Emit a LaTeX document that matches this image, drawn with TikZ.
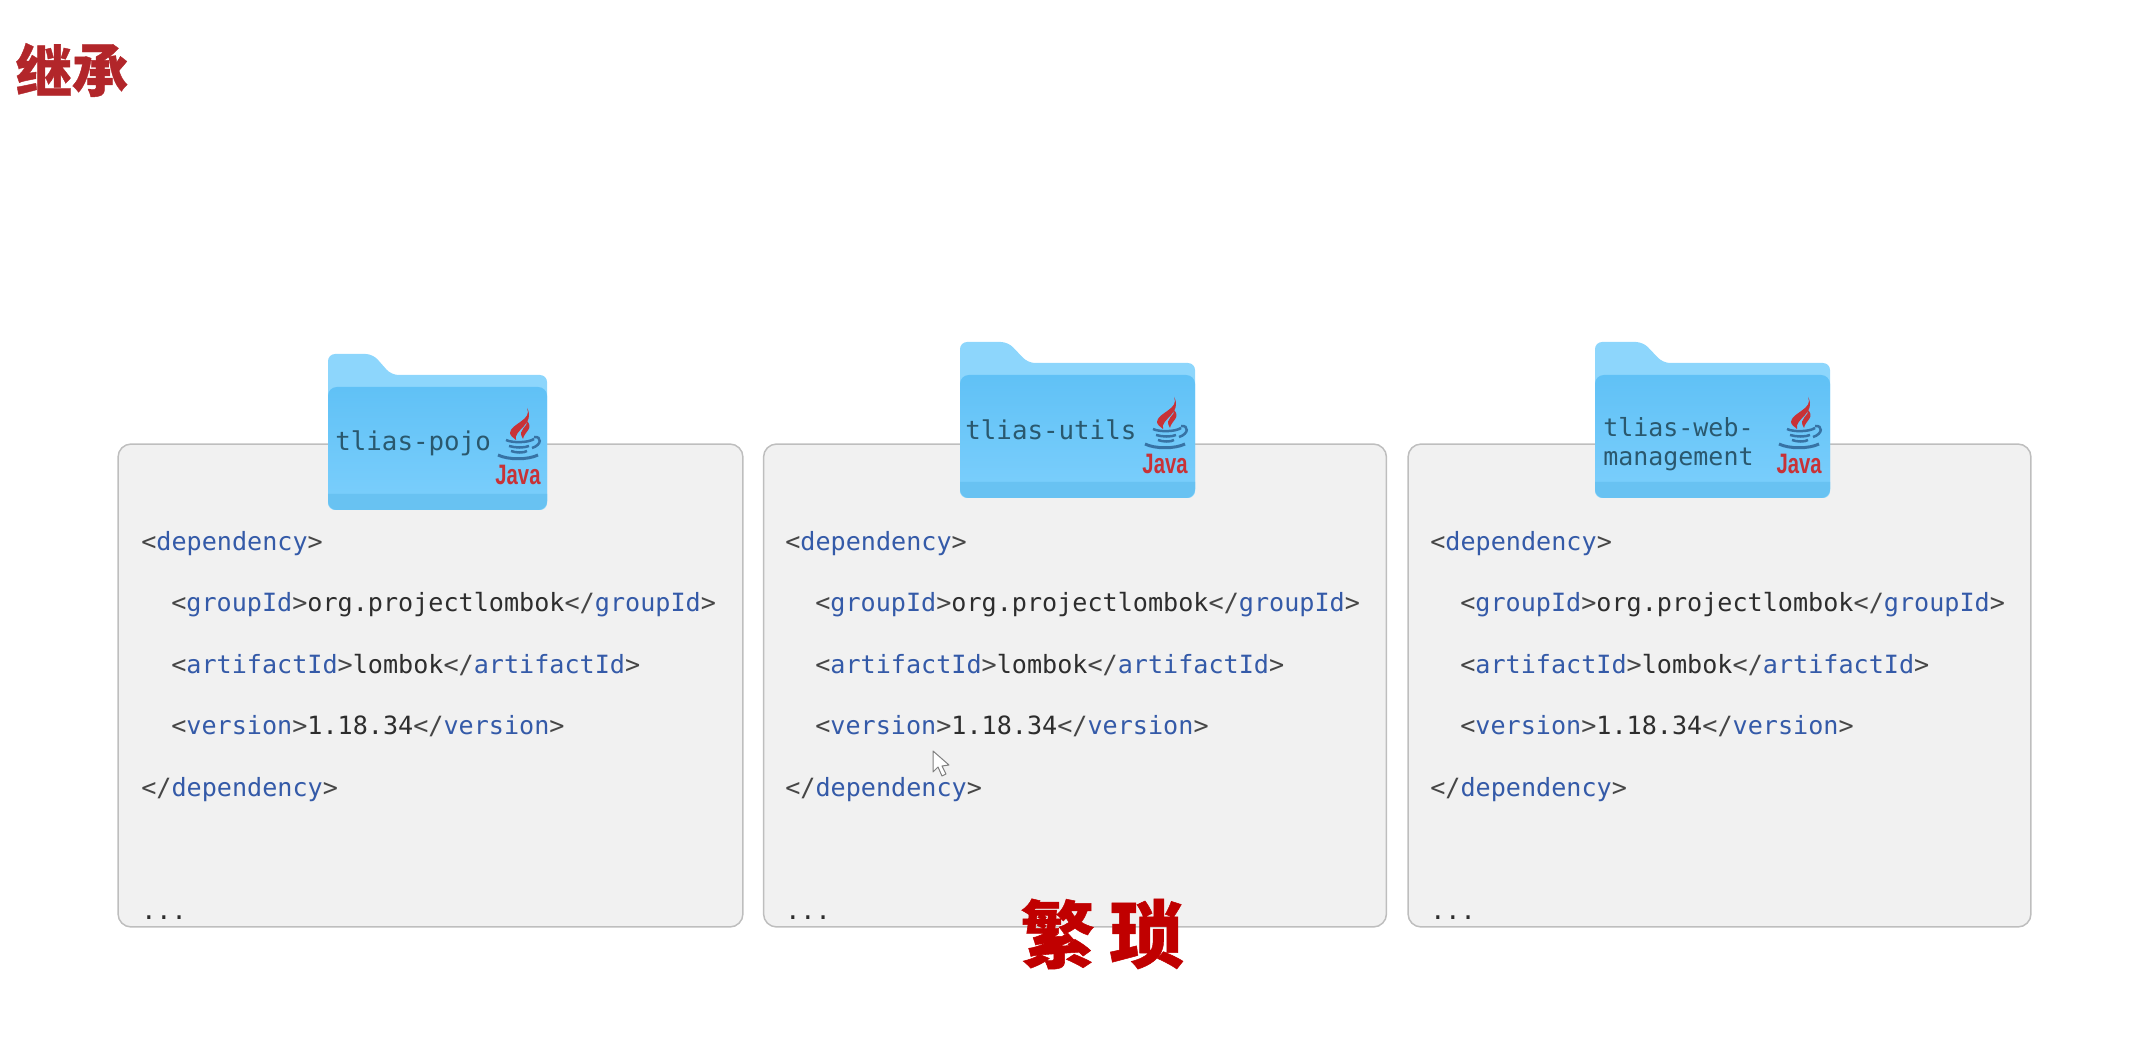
\documentclass[tikz,border=0pt]{standalone}
\usepackage{fontspec}
\usepackage{xcolor}
\usetikzlibrary{positioning, calc}
\newfontfamily\codefont{DejaVu Sans Mono}
\newfontfamily\cjkfont[BoldFeatures={FakeBold=0.7}]{Noto Sans CJK SC}
\setmainfont{Liberation Sans}
\definecolor{xmlblue}{RGB}{52, 90, 168}
\definecolor{xmlgray}{RGB}{70, 70, 70}
\definecolor{xmltext}{RGB}{45, 45, 45}
\definecolor{foldertext}{RGB}{42, 88, 110}
\definecolor{javared}{RGB}{200, 50, 55}
\definecolor{javablue}{RGB}{55, 115, 165}
\definecolor{titlered}{RGB}{178, 38, 42}
\definecolor{notered}{RGB}{192, 0, 0}
\newcommand{\xmlopen}[1]{\textcolor{xmlgray}{<}\textcolor{xmlblue}{#1}\textcolor{xmlgray}{>}}
\newcommand{\xmlclose}[1]{\textcolor{xmlgray}{</}\textcolor{xmlblue}{#1}\textcolor{xmlgray}{>}}
\newcommand{\depindent}{\hspace*{0.6cm}}
\newcommand{\depblock}{%
    \xmlopen{dependency}\\
    \depindent\xmlopen{groupId}org.projectlombok\xmlclose{groupId}\\
    \depindent\xmlopen{artifactId}lombok\xmlclose{artifactId}\\
    \depindent\xmlopen{version}1.18.34\xmlclose{version}\\
    \xmlclose{dependency}\\
    \mbox{}\\
    ...}
\tikzset{
    pics/folder/.style={code={
        % back with tab
        \path[fill={rgb,255:red,141;green,214;blue,252}, rounded corners=4pt]
            (0,156) -- (0,0) -- (48,0) -- (68,21) -- (235,21) -- (235,156) -- cycle;
        % front panel
        \path[top color={rgb,255:red,96;green,193;blue,246}, bottom color={rgb,255:red,124;green,207;blue,252}, rounded corners=5pt]
            (0,156) -- (0,33) -- (235,33) -- (235,156) -- cycle;
        % darker strip at the bottom
        \path[fill={rgb,255:red,104;green,194;blue,242}]
            (0,140) -- (235,140) [rounded corners=5pt] -- (235,156) -- (0,156) [sharp corners] -- cycle;
    }},
    pics/javalogo/.style={code={
        % flames
        \fill[javared] (31,0) .. controls (37,12) and (14,16) .. (14,25) .. controls (14,28) and (18,30) .. (20,32)
            .. controls (17,22) and (40,16) .. (31,0);
        \fill[javared] (30,12) .. controls (34,20) and (20,20) .. (27,31) .. controls (28,24) and (39,20) .. (30,12);
        % cup and saucer
        \draw[javablue, line width=0.05cm] (10,32) .. controls (16,35) and (32,35) .. (38,31);
        \draw[javablue, line width=0.05cm] (13,38) .. controls (20,40) and (28,40) .. (33,38);
        \draw[javablue, line width=0.05cm] (15,43) .. controls (20,45) and (28,45) .. (31,43);
        \draw[javablue, line width=0.05cm] (38,29) .. controls (46,28) and (46,37) .. (36,40);
        \draw[javablue, line width=0.06cm] (2,47) .. controls (12,52) and (32,52) .. (42,47);
        \node[javaword] (-word) at (22,67) {Java};
    }},
}

\begin{document}
\begin{tikzpicture}[
        x=0.02cm, y=-0.02cm,
        depbox/.style={draw={rgb,255:red,190;green,190;blue,190}, line width=0.03cm, rounded corners=0.26cm, fill={rgb,255:red,241;green,241;blue,241}, minimum width=12.5cm, minimum height=9.66cm, inner sep=0pt},
        depcode/.style={anchor=north west, inner sep=0pt, align=left, text=xmltext, font=\codefont\fontsize{14.3}{35}\selectfont},
        foldername/.style={inner sep=0pt, align=left, text=foldertext, font=\codefont\fontsize{14.7}{16.8}\selectfont},
        javaword/.style={inner sep=0pt, text=javared, xscale=0.72, transform shape, font=\bfseries\fontsize{16}{18}\selectfont},
        pagetitle/.style={inner sep=0pt, text=titlered, font=\cjkfont\bfseries\fontsize{32}{36}\selectfont},
        remark/.style={inner sep=0pt, text=notered, font=\cjkfont\bfseries\fontsize{42}{46}\selectfont},
    ]
        \useasboundingbox (0,0) rectangle (2148,1047);
        \node[pagetitle] (title) at (72,70) {继承};

        % Grey boxes
        \node[depbox] (pojobox)  at (430.5,685.5) {};
        \node[depbox, minimum width=12.46cm] (utilsbox) at (1075,685.5) {};
        \node[depbox, minimum width=12.46cm] (webbox)   at (1719.5,685.5) {};

        % Code inside each box
        \node[depcode] (pojocode)  at (141,531) {\depblock};
        \node[depcode] (utilscode) at (785,531) {\depblock};
        \node[depcode] (webcode)   at (1430,531) {\depblock};

        % Folders on top of the boxes
        \pic[xscale=0.932] at (328,354) {folder};
        \pic at (960,342) {folder};
        \pic at (1595,342) {folder};

        \node[foldername, anchor=west] (pojoname)  at (335,443) {tlias-pojo};
        \node[foldername, anchor=west] (utilsname) at (965,430) {tlias-utils};
        \node[foldername, anchor=west, font=\codefont\fontsize{14.2}{16.8}\selectfont] (webname) at (1603,444) {tlias-web-\\management};

        \pic (pojojava)  at (496,408)  {javalogo};
        \pic (utilsjava) at (1143,397) {javalogo};
        \pic (webjava)   at (1777,397) {javalogo};

        % Mouse pointer
        \draw[gray, line width=0.02cm, fill=white, line join=round] (933,751) -- (933,772) -- (938,767) -- (942,776) -- (946,774) -- (942,766) -- (949,765) -- cycle;

        \node[remark] (note) at (1102,934) {繁\hspace{0.3cm}琐};
    \end{tikzpicture}
\end{document}
